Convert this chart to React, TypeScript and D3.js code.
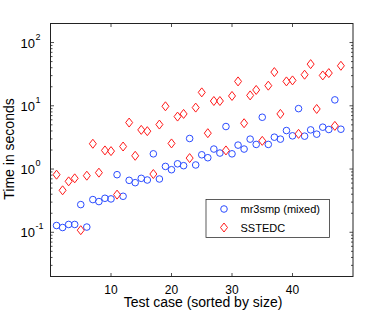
import React from 'react';
import * as d3 from 'd3';

const mr3smp = [
  0.128, 0.119, 0.133, 0.133, 0.274, 0.121, 0.329, 0.306, 0.345, 0.337,
  0.814, 0.371, 0.663, 0.609, 0.713, 0.671, 1.74, 0.696, 1.1, 0.976,
  1.21, 1.13, 3.04, 1.16, 1.68, 1.51, 2.07, 1.79, 4.7, 1.74,
  2.39, 2.07, 2.97, 2.45, 6.59, 2.45, 3.19, 2.97, 4.06, 3.35,
  9.02, 3.31, 4.16, 3.56, 4.59, 4.22, 12.4, 4.26,
];
const sstedc = [
  0.814, 0.461, 0.639, 0.713, 0.108, 0.785, 2.51, 0.876, 1.97, 1.92,
  0.394, 2.27, 5.43, 1.62, 4.16, 3.97, 0.834, 5.05, 9.82, 2.54,
  6.75, 7.44, 1.49, 9.36, 16.3, 3.69, 11.9, 11.9, 1.97, 14.3,
  24.3, 5.3, 14.6, 17.8, 2.79, 20.8, 34.1, 7.44, 24.3, 25.2,
  3.6, 31.0, 45.6, 8.91, 30.2, 32.9, 4.81, 42.9,
];
const xTicks = [10, 20, 30, 40];
const yExps = [-1, 0, 1, 2];
const seriesNames = ['mr3smp (mixed)', 'SSTEDC'];

const W = 390;
const H = 312;
const m = { left: 50.5, right: 353, top: 23.5, bottom: 276.5 };
const font = 'Liberation Sans, Arial, sans-serif';
const blue = '#2b4cff';
const red = '#ff1a1a';

const diamond = (cx: number, cy: number) =>
  `M${cx},${cy - 4.5}L${cx + 3.5},${cy}L${cx},${cy + 4.5}L${cx - 3.5},${cy}Z`;

export default function App() {
  const x = d3.scaleLinear().domain([0, 50]).range([m.left, m.right]);
  const y = d3.scaleLog().domain([0.02, 200]).range([m.bottom, m.top]);

  // minor ticks 2..9 per decade inside the domain
  const minors: number[] = [];
  for (let e = -2; e <= 2; e++) {
    for (let k = 2; k <= 9; k++) {
      const v = k * Math.pow(10, e);
      if (v >= 0.02 && v <= 200) minors.push(v);
    }
  }

  return (
    <svg width={W} height={H} style={{ position: 'absolute', left: 0, top: 0 }} fontFamily={font}>
      <rect width={W} height={H} fill="#fff" />

      {/* ticks, inward on all four sides */}
      <g stroke="#222" strokeWidth={0.8}>
        {xTicks.map(t => (
          <g key={t}>
            <line x1={x(t)} x2={x(t)} y1={m.bottom} y2={m.bottom - 3.5} />
            <line x1={x(t)} x2={x(t)} y1={m.top} y2={m.top + 3.5} />
          </g>
        ))}
        {yExps.map(e => {
          const yy = y(Math.pow(10, e));
          return (
            <g key={e}>
              <line x1={m.left} x2={m.left + 3.5} y1={yy} y2={yy} />
              <line x1={m.right} x2={m.right - 3.5} y1={yy} y2={yy} />
            </g>
          );
        })}
        {minors.map((v, i) => (
          <g key={i}>
            <line x1={m.left} x2={m.left + 2} y1={y(v)} y2={y(v)} />
            <line x1={m.right} x2={m.right - 2} y1={y(v)} y2={y(v)} />
          </g>
        ))}
      </g>

      {/* data */}
      <g fill="none" strokeWidth={1}>
        {mr3smp.map((v, i) => (
          <circle key={'b' + i} cx={x(i + 1)} cy={y(v)} r={3.3} stroke={blue} />
        ))}
        {sstedc.map((v, i) => (
          <path key={'r' + i} d={diamond(x(i + 1), y(v))} stroke={red} />
        ))}
      </g>

      <rect x={m.left} y={m.top} width={m.right - m.left} height={m.bottom - m.top}
        fill="none" stroke="#222" strokeWidth={1} />

      {/* tick labels */}
      <g fontSize={12} fill="#000">
        {xTicks.map(t => (
          <text key={t} x={x(t)} y={294} textAnchor="middle">{t}</text>
        ))}
        {yExps.map(e => {
          const yy = y(Math.pow(10, e));
          return (
            <g key={e}>
              <text x={35} y={yy + 5} textAnchor="end" fontSize={13}>10</text>
              <text x={35.5} y={yy - 3} fontSize={9}>{e}</text>
            </g>
          );
        })}
      </g>

      <text x={203} y={306.5} textAnchor="middle" fontSize={14}>Test case (sorted by size)</text>
      <text transform="translate(13.5,149) rotate(-90)" textAnchor="middle" fontSize={14}>Time in seconds</text>

      {/* legend */}
      <g>
        <rect x={206} y={199.5} width={123.5} height={38} fill="#fff" stroke="#333" strokeWidth={0.8} />
        <circle cx={224} cy={209} r={3.3} fill="none" stroke={blue} />
        <path d={diamond(224, 227.5)} fill="none" stroke={red} />
        <text x={240.5} y={213} fontSize={11}>{seriesNames[0]}</text>
        <text x={240.5} y={231.5} fontSize={11}>{seriesNames[1]}</text>
      </g>
    </svg>
  );
}
